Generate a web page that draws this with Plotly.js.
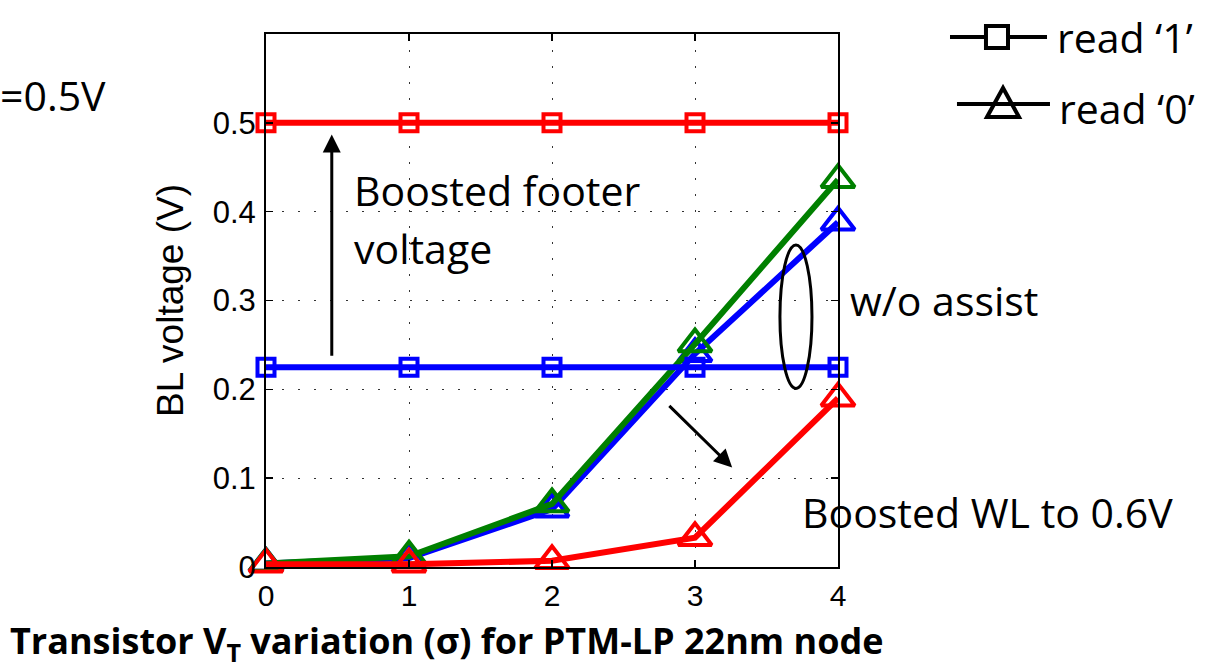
<!DOCTYPE html>
<html>
<head>
<meta charset="utf-8">
<script src="https://cdn.plot.ly/plotly-3.0.1.min.js"></script>
<style>
  html, body { margin: 0; padding: 0; background: #fff; }
  #chart { width: 1205px; height: 672px; }
</style>
</head>
<body>
<div id="chart"></div>
<script>
// V_T variation in sigma units
const sigma = [0, 1, 2, 3, 4];

// BL voltage (V) for each read case
const read1Footer   = [0.5, 0.5, 0.5, 0.5, 0.5];           // read '1', boosted footer
const read1NoAssist = [0.225, 0.225, 0.225, 0.225, 0.225]; // read '1', no assist
const read0NoAssist = [0.004, 0.010, 0.065, 0.240, 0.388]; // read '0', no assist
const read0Footer   = [0.004, 0.012, 0.071, 0.251, 0.436]; // read '0', boosted footer
const read0WL       = [0.003, 0.003, 0.007, 0.033, 0.190]; // read '0', boosted WL

const yTicks = [0, 0.1, 0.2, 0.3, 0.4, 0.5];
const yTickText = ['0', '0.1', '0.2', '0.3', '0.4', '0.5'];
const xTicks = [0, 1, 2, 3, 4];

const RED = '#ff0000', BLUE = '#0000ff', GREEN = '#008000';

function series(y, color, symbol, size) {
  return {
    x: sigma, y: y, type: 'scatter', mode: 'lines+markers',
    line: { color: color, width: 6 },
    marker: { symbol: symbol, size: size, color: color, line: { color: color, width: 4 } },
    cliponaxis: false, showlegend: false, hoverinfo: 'skip'
  };
}

const traces = [
  series(read0NoAssist, BLUE, 'triangle-up-open', 29),
  series(read0Footer, GREEN, 'triangle-up-open', 29),
  series(read1NoAssist, BLUE, 'square-open', 17),
  series(read1Footer, RED, 'square-open', 17),
  series(read0WL, RED, 'triangle-up-open', 29)
];

const textFont = { family: '"Open Sans", Lato, sans-serif', size: 41, color: '#000' };

function note(text, x, y, ref) {
  return { text: text, xref: ref, yref: ref === 'paper' ? 'paper' : 'y', x: x, y: y,
           xanchor: 'left', yanchor: 'middle', showarrow: false, font: textFont };
}

const layout = {
  width: 1205, height: 672,
  margin: { l: 266, r: 367, t: 34, b: 105 },
  paper_bgcolor: '#fff', plot_bgcolor: '#fff',
  showlegend: false,
  font: { family: '"Liberation Sans", Arial, sans-serif', color: '#000' },
  xaxis: {
    range: [0, 4], tickvals: xTicks, ticks: 'inside', ticklen: 7, tickwidth: 1.5,
    tickcolor: '#000', showline: true, linecolor: '#000', linewidth: 2, mirror: 'ticks',
    showgrid: true, gridcolor: '#333', gridwidth: 1, griddash: '2px,14px',
    zeroline: false, tickfont: { size: 30 }, ticklabelstandoff: 1
  },
  yaxis: {
    range: [0, 0.6], tickvals: yTicks, ticktext: yTickText, ticks: 'inside', ticklen: 7,
    tickwidth: 1.5, tickcolor: '#000', showline: true, linecolor: '#000', linewidth: 2,
    mirror: 'ticks', showgrid: true, gridcolor: '#333', gridwidth: 1, griddash: '2px,14px',
    zeroline: false, tickfont: { size: 31 }, ticklabelstandoff: 2,
    title: { text: 'BL voltage (V)', font: { size: 37 }, standoff: 18 }
  },
  annotations: [
    note('=0.5V', -0.468, 0.8856, 'paper'),
    note('Boosted footer', 0.60, 0.424, 'x'),
    note('voltage', 0.60, 0.359, 'x'),
    note('w/o assist', 1.0175, 0.501, 'paper'),
    note('Boosted WL to 0.6V', 3.734, 0.062, 'x'),
    note('read \u20181\u2019', 1.3794, 0.9944, 'paper'),
    note('read \u20180\u2019', 1.3829, 0.8612, 'paper'),
    // arrows
    { xref: 'x', yref: 'y', axref: 'x', ayref: 'y', x: 0.46, y: 0.487, ax: 0.46, ay: 0.236,
      text: '', showarrow: true, arrowhead: 2, arrowsize: 1.2, arrowwidth: 3, arrowcolor: '#000' },
    { xref: 'x', yref: 'y', axref: 'x', ayref: 'y', x: 3.26, y: 0.112, ax: 2.81, ay: 0.183,
      text: '', showarrow: true, arrowhead: 2, arrowsize: 1.2, arrowwidth: 3, arrowcolor: '#000' },
    // x-axis caption
    { text: '<b>Transistor V<sub>T</sub> variation (\u03c3) for PTM-LP 22nm node</b>',
      xref: 'paper', yref: 'paper', x: 0.316, y: -0.142, xanchor: 'center', yanchor: 'middle',
      showarrow: false, font: { family: '"Open Sans", Lato, sans-serif', size: 36, color: '#000' } }
  ],
  shapes: [
    // grouping ellipse
    { type: 'circle', xref: 'x', yref: 'y', x0: 3.594, x1: 3.818, y0: 0.201, y1: 0.3625,
      line: { color: '#000', width: 3 } },
    // key: read '1'
    { type: 'line', xref: 'paper', yref: 'paper', x0: 1.1958, x1: 1.3654, y0: 0.9944, y1: 0.9944,
      line: { color: '#000', width: 4 } },
    { type: 'rect', xref: 'paper', yref: 'paper', x0: 1.2587, x1: 1.2972, y0: 0.9738, y1: 1.0150,
      fillcolor: '#fff', line: { color: '#000', width: 4 } },
    // key: read '0'
    { type: 'line', xref: 'paper', yref: 'paper', x0: 1.2080, x1: 1.3706, y0: 0.8687, y1: 0.8687,
      line: { color: '#000', width: 4 } },
    { type: 'path', xref: 'paper', yref: 'paper', path: 'M 1.2605 0.8443 L 1.2885 0.8987 L 1.3164 0.8443 Z',
      fillcolor: 'rgba(0,0,0,0)', line: { color: '#000', width: 4 } }
  ]
};

Plotly.newPlot('chart', traces, layout, { staticPlot: true });
</script>
</body>
</html>
